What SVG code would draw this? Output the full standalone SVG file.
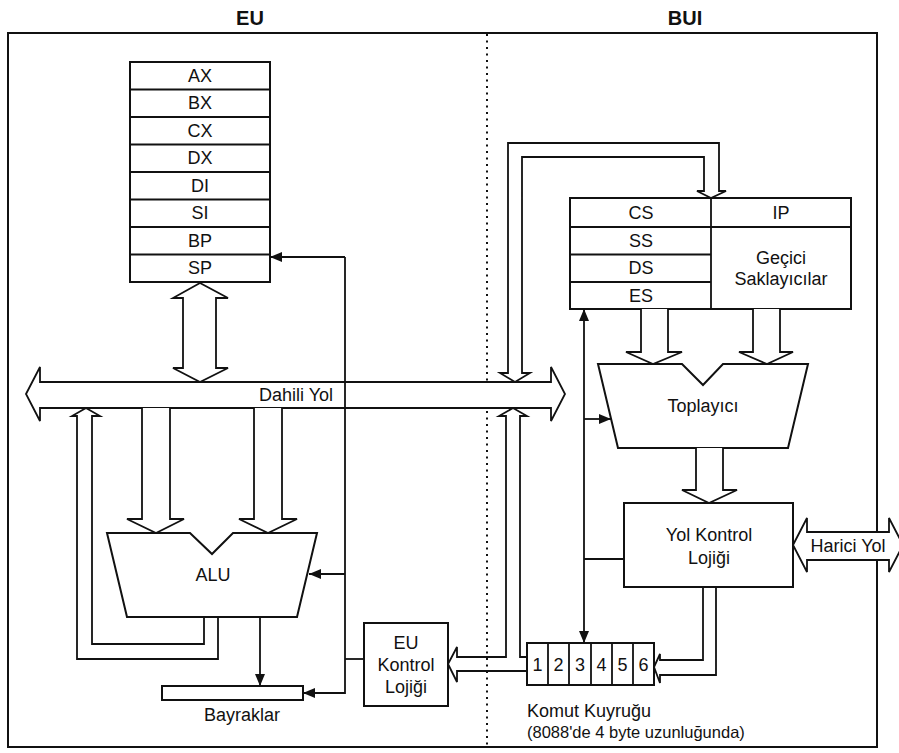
<svg xmlns="http://www.w3.org/2000/svg" width="899" height="753" viewBox="0 0 899 753">
<style>
.box{fill:#fff;stroke:#111;stroke-width:2}
.ln{fill:none;stroke:#111;stroke-width:1.8}
.pipe{fill:#fff;stroke:#111;stroke-width:1.8;stroke-linejoin:miter}
.t{font-family:"Liberation Sans",Arial,sans-serif;font-size:18px;text-anchor:middle;dominant-baseline:central;fill:#111}
.tl{font-family:"Liberation Sans",Arial,sans-serif;font-size:18px;dominant-baseline:central;fill:#111}
.h{font-family:"Liberation Sans",Arial,sans-serif;font-size:20px;font-weight:bold;text-anchor:middle;dominant-baseline:central;fill:#111}
</style>
<defs>
<marker id="ah" markerUnits="userSpaceOnUse" markerWidth="12" markerHeight="10" refX="12" refY="5" orient="auto">
<path d="M0,0 L12,5 L0,10 Z" fill="#111"/>
</marker>
</defs>
<rect x="0" y="0" width="899" height="753" fill="#fff"/>
<g id="frame">
<rect x="8" y="33" width="869" height="714" fill="none" stroke="#111" stroke-width="2"/>
<line x1="487" y1="34" x2="487" y2="746" stroke="#111" stroke-width="2" stroke-dasharray="2 4.5"/>
<text class="h" x="250" y="18">EU</text>
<text class="h" x="685" y="18">BUI</text>
</g>
<g id="registers">
<rect class="box" x="130" y="62" width="140" height="220"/>
<g class="ln"><path d="M130,89.5H270M130,117H270M130,144.5H270M130,172H270M130,199.5H270M130,227H270M130,254.5H270"/></g>
<text class="t" x="200" y="76">AX</text>
<text class="t" x="200" y="103">BX</text>
<text class="t" x="200" y="131">CX</text>
<text class="t" x="200" y="158">DX</text>
<text class="t" x="200" y="186">DI</text>
<text class="t" x="200" y="213">SI</text>
<text class="t" x="200" y="241">BP</text>
<text class="t" x="200" y="268">SP</text>
</g>
<g id="dahili-yol">
<path class="pipe" d="M26,394 L40,367 V382 H551 V367 L565,394 L551,421 V408 H40 V421 Z"/>
<text class="t" x="296" y="395">Dahili Yol</text>
</g>
<g id="alu">
<path class="box" d="M107,533 L190,533 L212,554 L233,533 L317,533 L297,617 L127,617 Z"/>
<text class="t" x="213" y="575">ALU</text>
</g>
<g id="bayraklar">
<rect class="box" x="162" y="686" width="141" height="14"/>
<text class="t" x="242" y="715">Bayraklar</text>
</g>
<g id="eu-kontrol">
<rect class="box" x="364" y="623" width="84" height="83"/>
<text class="t" x="406" y="643">EU</text>
<text class="t" x="406" y="665">Kontrol</text>
<text class="t" x="406" y="687">Lojiği</text>
</g>
<g id="segment-registers">
<rect class="box" x="570" y="198" width="281" height="111"/>
<g class="ln"><path d="M711,198V309M570,227H851M570,254.5H711M570,282H711"/></g>
<text class="t" x="641" y="213">CS</text>
<text class="t" x="641" y="241">SS</text>
<text class="t" x="641" y="268">DS</text>
<text class="t" x="641" y="296">ES</text>
<text class="t" x="781" y="213">IP</text>
<text class="t" x="781" y="258">Geçici</text>
<text class="t" x="781" y="279">Saklayıcılar</text>
</g>
<g id="toplayici">
<path class="box" d="M598,364 L682,364 L703,385 L723,364 L808,364 L788,448 L618,448 Z"/>
<text class="t" x="703" y="406">Toplayıcı</text>
</g>
<g id="yol-kontrol">
<rect class="box" x="624" y="503" width="169" height="84"/>
<text class="t" x="709" y="535">Yol Kontrol</text>
<text class="t" x="709" y="558">Lojiği</text>
</g>
<g id="harici-yol">
<path class="pipe" d="M793,545 L807,518 V532 H889 V518 L903,545 L889,572 V560 H807 V572 Z"/>
<text class="t" x="848" y="546">Harici Yol</text>
</g>
<g id="komut-kuyrugu">
<rect class="box" x="527" y="643" width="127" height="42"/>
<g class="ln"><path d="M548,643V685M569,643V685M591,643V685M612,643V685M633,643V685"/></g>
<text class="t" x="537.5" y="665">1</text>
<text class="t" x="558.5" y="665">2</text>
<text class="t" x="580" y="665">3</text>
<text class="t" x="601.5" y="665">4</text>
<text class="t" x="622.5" y="665">5</text>
<text class="t" x="643.5" y="665">6</text>
<text class="tl" x="527" y="711">Komut Kuyruğu</text>
<text class="tl" x="527" y="732" style="font-size:16.5px">(8088'de 4 byte uzunluğunda)</text>
</g>
<g id="connectors">
<path class="pipe" d="M200,283 L228,298 H216 V368 H228 L200,382 L173,368 H183 V298 H173 Z"/>
<path class="pipe" d="M142,408 V519 H127 L156,533 L184,519 H170 V408"/>
<path class="pipe" d="M254,408 V519 H239 L268,533 L297,519 H282 V408"/>
<path class="ln" d="M204,617 V644 H92 V416 H100 L86,408 L72,416 H77 V659 H218 V617"/>
<path class="ln" d="M260,617 V686" marker-end="url(#ah)"/>
<path class="ln" d="M345,257 V693 H303" marker-end="url(#ah)"/>
<path class="ln" d="M345,257 H270" marker-end="url(#ah)"/>
<path class="ln" d="M345,574 H309" marker-end="url(#ah)"/>
<path class="ln" d="M345,659 H364"/>
<path class="ln" d="M527,657 H520 V416 H527 L513,408 L499,416 H506 V657 H457 V647 L448,664 L457,682 V671 H527"/>
<path class="ln" d="M508,373 V143 H719 V191 H726 L711,198 L697,191 H704 V157 H522 V373 H530 L515,382 L500,373 Z"/>
<path class="pipe" d="M641,309 V352 H626 L653,364 L682,352 H668 V309"/>
<path class="pipe" d="M753,309 V352 H739 L767,364 L793,352 H780 V309"/>
<path class="pipe" d="M696,448 V490 H682 L709,503 L737,490 H723 V448"/>
<path class="ln" d="M703,587 V660 H660 V654 L654,667 L660,683 V675 H716 V587"/>
<path class="ln" d="M584,476 V309" marker-end="url(#ah)"/>
<path class="ln" d="M584,476 V643" marker-end="url(#ah)"/>
<path class="ln" d="M584,419 H611" marker-end="url(#ah)"/>
<path class="ln" d="M584,559 H624"/>
</g>
</svg>
